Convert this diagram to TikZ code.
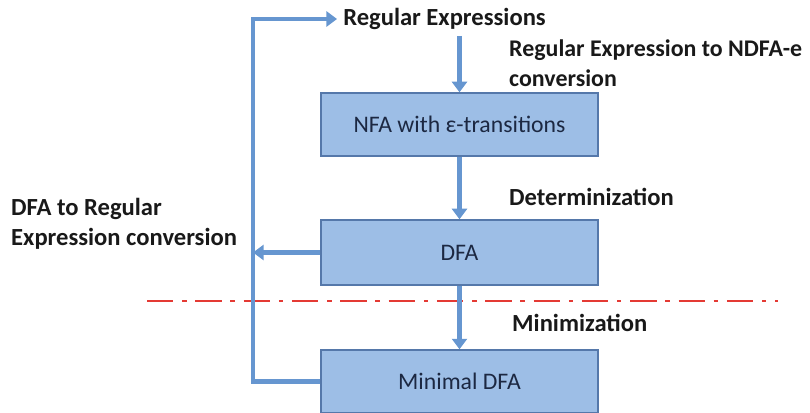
\documentclass[tikz,border=0pt]{standalone}
\usepackage{xcolor}
\usepackage{fontspec}
\setmainfont{Carlito}
\usepackage{tikz}
\usetikzlibrary{arrows.meta}

\definecolor{boxfill}{RGB}{157,190,230}
\definecolor{boxline}{RGB}{85,120,170}
\definecolor{flowblue}{RGB}{102,150,208}
\definecolor{cutred}{RGB}{228,58,52}
\definecolor{boxtext}{RGB}{28,40,66}

\begin{document}
\begin{tikzpicture}[
    stage/.style={draw=boxline, line width=0.8pt, fill=boxfill, minimum width=5.54cm,
        minimum height=1.26cm, inner sep=0pt, text=boxtext, font=\fontsize{13.5}{16}\selectfont},
    note/.style={text=black!90, font=\bfseries\fontsize{14}{17}\selectfont, align=left},
    flow/.style={draw=flowblue, line width=2.8pt},
    tip/.style={-{Triangle[length=6pt,width=8.5pt]}}
  ]
                    \useasboundingbox (0,0) rectangle (16.2,8.26);
                    \draw[cutred, line width=1.4pt, dash pattern=on 15pt off 5pt on 2.5pt off 5pt] (2.94,2.24) -- (15.56,2.24);
                    \node[stage] (nfa) at (9.19,5.77) {NFA with ε-transitions};
                    \node[stage, minimum height=1.3cm] (dfa) at (9.19,3.21) {DFA};
                    \node[stage] (mindfa) at (9.19,0.63) {Minimal DFA};
                    \node[note] (rex) at (8.89,7.88) {Regular Expressions};
                    \coordinate (top) at (5.06,7.88);
                    \node[note, anchor=west, font=\bfseries\fontsize{13.6}{17}\selectfont] (toconv) at (10.06,7.0) {Regular Expression to NDFA-e\\conversion};
                    \node[note, anchor=west] (det) at (10.06,4.32) {Determinization};
                    \node[note, anchor=west] (mini) at (10.12,1.8) {Minimization};
                    \node[note, anchor=west] (back) at (0.1,3.79) {DFA to Regular\\Expression conversion};
                    \draw[flow, tip] (rex.south -| nfa.north) -- (nfa.north);
                    \draw[flow, tip] (nfa) -- (dfa);
                    \draw[flow, tip] (dfa) -- (mindfa);
                    \draw[flow, tip] (mindfa.west) -| (top) -- (rex.west);
                    \draw[flow, tip] (dfa.west) -- (dfa.west -| top);
                \end{tikzpicture}
\end{document}
